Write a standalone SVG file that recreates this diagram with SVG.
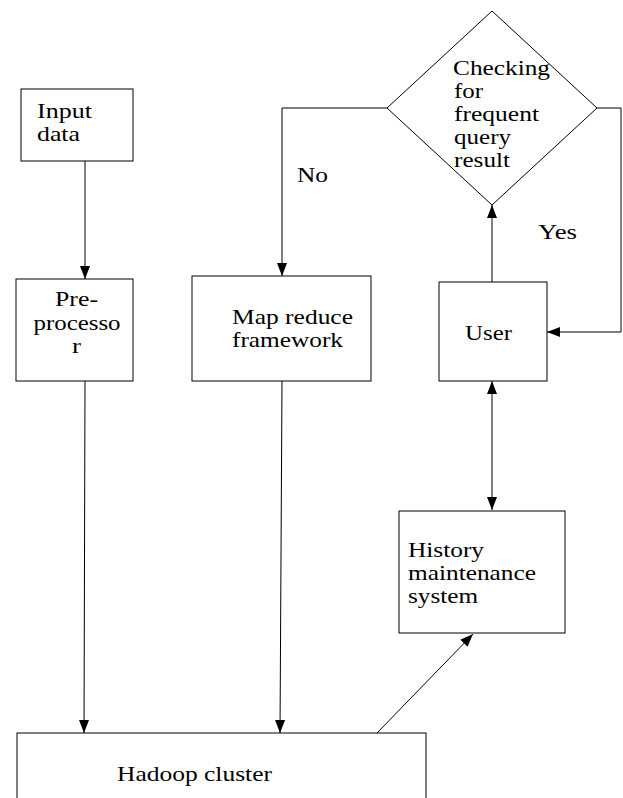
<svg xmlns="http://www.w3.org/2000/svg" width="623" height="798" viewBox="0 0 623 798">
<style>
.box{fill:#fff;stroke:#000;stroke-width:1}
.ln{fill:none;stroke:#000;stroke-width:1}
text{font-family:"Liberation Serif","Times New Roman",serif;font-size:22px;fill:#000}
</style>
<defs>
<marker id="ah" markerUnits="userSpaceOnUse" markerWidth="14" markerHeight="12" refX="13" refY="5" orient="auto-start-reverse" viewBox="0 0 14 10">
<path d="M0,0 L13,5 L0,10 z" fill="#000"/>
</marker>
</defs>
<rect width="623" height="798" fill="#fff"/>
<g id="connectors">
<line class="ln" x1="85" y1="161" x2="85" y2="279" marker-end="url(#ah)"/>
<line class="ln" x1="85" y1="381" x2="84" y2="733" marker-end="url(#ah)"/>
<polyline class="ln" points="387,108 282,108 282,276" marker-end="url(#ah)"/>
<line class="ln" x1="282" y1="381" x2="280" y2="733" marker-end="url(#ah)"/>
<line class="ln" x1="492" y1="282" x2="492" y2="205" marker-end="url(#ah)"/>
<polyline class="ln" points="597,108 621,108 621,332 547,332" marker-end="url(#ah)"/>
<line class="ln" x1="492" y1="381" x2="492" y2="510" marker-start="url(#ah)" marker-end="url(#ah)"/>
<line class="ln" x1="377" y1="733" x2="473" y2="634" marker-end="url(#ah)"/>
<text x="297" y="182" textLength="31" lengthAdjust="spacingAndGlyphs">No</text>
<text x="538" y="239" textLength="39" lengthAdjust="spacingAndGlyphs">Yes</text>
</g>
<g id="input">
<rect class="box" x="21" y="89" width="112" height="72"/>
<text x="37" y="118" textLength="55" lengthAdjust="spacingAndGlyphs">Input</text>
<text x="37" y="141" textLength="43" lengthAdjust="spacingAndGlyphs">data</text>
</g>
<g id="preprocessor">
<rect class="box" x="16" y="279" width="117" height="102"/>
<text x="55" y="306" textLength="43" lengthAdjust="spacingAndGlyphs">Pre-</text>
<text x="33.5" y="330" textLength="87" lengthAdjust="spacingAndGlyphs">processo</text>
<text x="72" y="353" textLength="9" lengthAdjust="spacingAndGlyphs">r</text>
</g>
<g id="mapreduce">
<rect class="box" x="192" y="276" width="179" height="105"/>
<text x="232" y="324" textLength="121" lengthAdjust="spacingAndGlyphs">Map reduce</text>
<text x="232" y="347" textLength="111" lengthAdjust="spacingAndGlyphs">framework</text>
</g>
<g id="decision">
<polygon points="492,11 597,108 492,205 387,108" fill="none" stroke="#000" stroke-width="1"/>
<text x="453" y="75" textLength="97" lengthAdjust="spacingAndGlyphs">Checking</text>
<text x="454" y="98" textLength="29" lengthAdjust="spacingAndGlyphs">for</text>
<text x="454" y="121" textLength="85" lengthAdjust="spacingAndGlyphs">frequent</text>
<text x="454" y="144" textLength="57" lengthAdjust="spacingAndGlyphs">query</text>
<text x="454" y="167" textLength="56" lengthAdjust="spacingAndGlyphs">result</text>
</g>
<g id="user">
<rect class="box" x="439" y="282" width="108" height="99"/>
<text x="465" y="340" textLength="47" lengthAdjust="spacingAndGlyphs">User</text>
</g>
<g id="history">
<rect class="box" x="399" y="511" width="166" height="122"/>
<text x="408" y="557" textLength="76" lengthAdjust="spacingAndGlyphs">History</text>
<text x="408" y="580" textLength="128" lengthAdjust="spacingAndGlyphs">maintenance</text>
<text x="408" y="603" textLength="70" lengthAdjust="spacingAndGlyphs">system</text>
</g>
<g id="hadoop">
<rect class="box" x="17" y="733" width="409" height="80"/>
<text x="117" y="781" textLength="155" lengthAdjust="spacingAndGlyphs">Hadoop cluster</text>
</g>
</svg>
